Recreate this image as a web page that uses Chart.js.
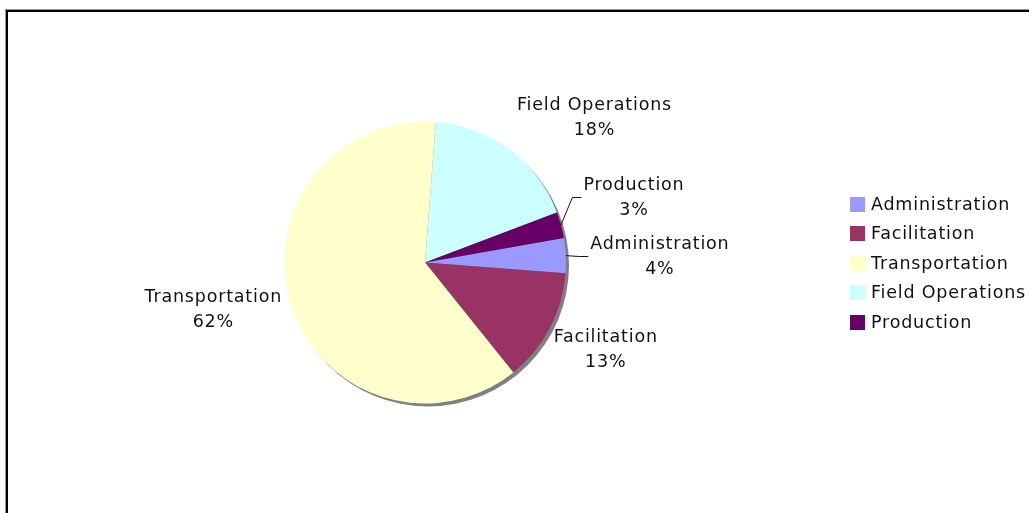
<!DOCTYPE html>
<html>
<head>
<meta charset="utf-8">
<script src="https://cdn.jsdelivr.net/npm/chart.js@4"></script>
<style>
html, body { margin: 0; padding: 0; background: #fff; }
</style>
</head>
<body>
<canvas id="chart" width="1029" height="513"></canvas>
<script>
const categories = ["Administration", "Facilitation", "Transportation", "Field Operations", "Production"];
const shares = [4, 13, 62, 18, 3];
const sliceColors = ["#9999FF", "#993366", "#FFFFCC", "#CCFFFF", "#660066"];

// label placement relative to the outer edge of each slice, and which ones get a leader line
const labelOffsets = [[94, 1], [56, 22], [-77, 6], [85, -32], [73, -27]];
const leaderLines = [true, false, false, false, true];

const FONT = "17.5px 'DejaVu Sans', Verdana, sans-serif";
const SPACING = "0.8px";
const LINE_HEIGHT = 25;

const excelLook = {
    id: "excelLook",
    beforeDraw(chart) {
        const ctx = chart.ctx;
        ctx.save();
        ctx.fillStyle = "#fff";
        ctx.fillRect(0, 0, chart.width, chart.height);
        // frame (only top and left edges show in the picture)
        ctx.fillStyle = "#999";
        ctx.fillRect(5, 9, chart.width, 1);
        ctx.fillRect(5, 9, 1, chart.height);
        ctx.fillStyle = "#000";
        ctx.fillRect(6, 10, chart.width, 2);
        ctx.fillRect(6, 10, 2, chart.height);
        ctx.restore();
    },
    beforeDatasetsDraw(chart) {
        const ctx = chart.ctx;
        const arc = chart.getDatasetMeta(0).data[0];
        const {x, y, outerRadius} = arc.getProps(["x", "y", "outerRadius"], true);
        ctx.save();
        ctx.fillStyle = "#808080";
        ctx.beginPath();
        ctx.arc(x + 3, y + 3, outerRadius, 0, Math.PI * 2);
        ctx.fill();
        ctx.restore();
    },
    afterDatasetsDraw(chart) {
        const ctx = chart.ctx;
        const values = chart.data.datasets[0].data;
        const total = values.reduce((a, b) => a + b, 0);
        ctx.save();
        ctx.font = FONT;
        ctx.letterSpacing = SPACING;
        ctx.fillStyle = "#111";
        ctx.strokeStyle = "#111";
        ctx.lineWidth = 1;
        ctx.textAlign = "center";
        ctx.textBaseline = "middle";
        chart.getDatasetMeta(0).data.forEach((arc, i) => {
            const p = arc.getProps(["x", "y", "startAngle", "endAngle", "outerRadius"], true);
            const mid = (p.startAngle + p.endAngle) / 2;
            const ex = p.x + Math.cos(mid) * p.outerRadius;
            const ey = p.y + Math.sin(mid) * p.outerRadius;
            const cx = ex + labelOffsets[i][0];
            const cy = ey + labelOffsets[i][1];
            const lines = [chart.data.labels[i], Math.round(values[i] / total * 100) + "%"];
            const w = Math.max(...lines.map(t => ctx.measureText(t).width));
            lines.forEach((t, j) => {
                ctx.fillText(t, cx, cy + (j - 0.5) * LINE_HEIGHT);
            });
            if (leaderLines[i]) {
                const left = cx - w / 2;
                ctx.beginPath();
                ctx.moveTo(ex, ey);
                ctx.lineTo(left - 11, Math.round(cy) - 0.5);
                ctx.lineTo(left - 2, Math.round(cy) - 0.5);
                ctx.stroke();
            }
        });
        ctx.restore();
    },
    afterDraw(chart) {
        const ctx = chart.ctx;
        const colors = chart.data.datasets[0].backgroundColor;
        ctx.save();
        ctx.font = FONT;
        ctx.letterSpacing = SPACING;
        ctx.textAlign = "left";
        ctx.textBaseline = "middle";
        chart.data.labels.forEach((label, i) => {
            const cy = 204 + i * 29.5;
            ctx.fillStyle = colors[i];
            ctx.fillRect(850, Math.round(cy - 7.5), 15, 15);
            ctx.fillStyle = "#111";
            ctx.fillText(label, 871, cy + 1);
        });
        ctx.restore();
    }
};

const chart = new Chart(document.getElementById("chart"), {
    type: "pie",
    data: {
        labels: categories,
        datasets: [{
            data: shares,
            backgroundColor: sliceColors,
            borderWidth: 0
        }]
    },
    options: {
        responsive: false,
        animation: false,
        rotation: 80,
        layout: { padding: { left: 284, right: 463, top: 121, bottom: 109 } },
        plugins: {
            legend: { display: false },
            tooltip: { enabled: false }
        }
    },
    plugins: [excelLook]
});
</script>
</body>
</html>
